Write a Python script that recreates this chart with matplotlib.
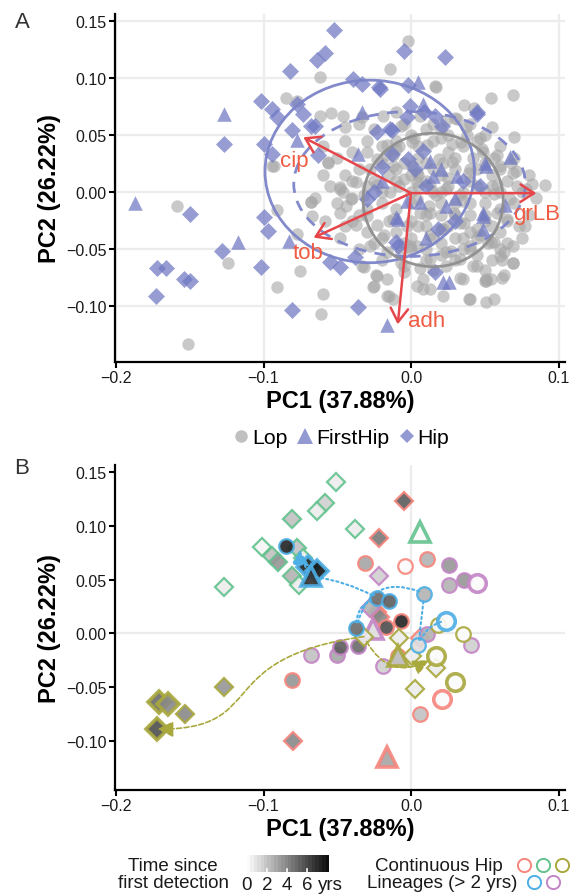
import numpy as np
import matplotlib
matplotlib.use('Agg')
import matplotlib.pyplot as plt
from matplotlib.patches import Ellipse, FancyArrowPatch
from matplotlib.path import Path
from matplotlib.lines import Line2D
from matplotlib.colors import LinearSegmentedColormap

plt.rcParams['font.family'] = ['Liberation Sans', 'DejaVu Sans']

# ---------------- axes / tick data ----------------
x_ticks = [-0.2, -0.1, 0.0, 0.1]
x_ticklabels = ['\u22120.2', '\u22120.1', '0.0', '0.1']
y_ticks = [-0.10, -0.05, 0.00, 0.05, 0.10, 0.15]
y_ticklabels = ['\u22120.10', '\u22120.05', '0.00', '0.05', '0.10', '0.15']
xlabel = 'PC1 (37.88%)'
ylabel = 'PC2 (26.22%)'

# ---------------- Panel A data ----------------
lop_x = [-0.002, -0.014, -0.062, -0.085, -0.077, 0.017, 0.069, 0.043, 0.055, 0.070,
         -0.062, -0.054, -0.046, -0.045, -0.033, -0.019, -0.056, -0.094, 0.071, 0.082, 0.091,
         -0.159, -0.124, -0.091, -0.151, -0.075, -0.060, -0.061, -0.068, -0.067, -0.091, -0.077,
         -0.016, -0.026, 0.039, 0.051, 0.056, 0.050, 0.062, 0.069, 0.073, -0.033, -0.023, 0.008,
         0.022, 0.035, 0.054,
         0.016, 0.031, 0.037, 0.024, 0.034, 0.047, 0.049, 0.056, 0.060, 0.069, 0.078, 0.058,
         0.056, 0.065, 0.077, 0.069, 0.063, 0.056, 0.047, 0.040, 0.036, 0.029, 0.024, 0.017,
         0.033, 0.039, 0.028, 0.019, 0.011, 0.002, -0.007, -0.016, -0.012, -0.005, 0.004, 0.013,
         0.006, -0.003, -0.012, -0.018, -0.007, 0.004, 0.013, 0.020, 0.024, 0.033, 0.042, 0.051,
         0.063, 0.069, 0.006, -0.005, -0.016, 0.004, 0.013, 0.040, -0.012, 0.020, 0.036, 0.054,
         0.006, -0.010,
         -0.093, -0.056, -0.068, -0.048, -0.046, -0.037, -0.028, -0.023, -0.017, -0.010, 0.001,
         -0.010, 0.001, -0.023, -0.032, -0.014, 0.004, 0.004, -0.044,
         -0.048, -0.041, -0.048, -0.037, -0.030, -0.023, -0.028, -0.016, -0.007, -0.032, -0.024,
         -0.025, -0.015, -0.001, 0.013, 0.008, 0.033, 0.051, 0.024, 0.040, 0.054, 0.060, 0.022,
         0.013, 0.033, 0.045, 0.058, 0.067,
         0.000, 0.010, 0.020, 0.030, 0.040, 0.050, 0.045, 0.025, 0.015, 0.005, -0.005, -0.015,
         -0.025, -0.035, -0.040, -0.030, -0.020, -0.010, 0.000, 0.010, 0.020, 0.030, 0.040,
         0.050, 0.060, 0.055, 0.065, 0.035, 0.045, 0.025, 0.010, 0.000, -0.010, -0.020, -0.030,
         -0.040, -0.050, -0.045, -0.055, -0.050, -0.040, -0.030, -0.020, -0.010, 0.000, 0.010,
         0.020, 0.030, 0.040, 0.050, 0.060, 0.070, 0.075, 0.070, 0.060, 0.050, 0.040, 0.030,
         0.015, -0.005, -0.025, -0.035, -0.045, -0.060, -0.060, -0.065, -0.058, -0.048, -0.035,
         -0.020, -0.005, 0.015, 0.030, 0.045, 0.055, 0.065, 0.075, 0.080, 0.085, 0.080, 0.005,
         0.025, 0.035, 0.012, -0.008, 0.042, 0.022, -0.012, 0.052, 0.027,
         0.005, 0.015, 0.025, 0.035, 0.045, 0.055, 0.000, 0.010, 0.020, 0.030, 0.040, 0.050,
         0.060, 0.005, 0.015, 0.025, 0.035, 0.045, 0.055, 0.000, 0.010, 0.020, 0.035, 0.045,
         0.060, 0.000, 0.010, 0.020, 0.030, 0.040, 0.050, 0.060, 0.005, 0.015, 0.028, 0.038,
         0.048, 0.020, -0.010, -0.020, -0.030, -0.015, -0.025, -0.005, -0.035, -0.045, -0.040,
         -0.020, -0.008, -0.030, 0.065, 0.072, 0.068, 0.058, 0.062, 0.050]
lop_y = [0.132, 0.108, 0.101, 0.082, 0.080, 0.092, 0.085, 0.074, 0.057, 0.048,
         0.067, 0.069, 0.067, 0.057, 0.066, 0.067, 0.025, 0.023, 0.018, 0.007, 0.006,
         -0.012, -0.062, -0.083, -0.133, -0.069, -0.089, -0.107, -0.009, -0.021, -0.016, -0.037,
         -0.091, -0.083, -0.094, -0.096, -0.094, -0.078, -0.075, -0.062, -0.030, -0.065, -0.074,
         -0.085, -0.091, -0.076, -0.076,
         0.093, 0.064, 0.057, 0.063, 0.044, 0.047, 0.035, 0.030, 0.023, 0.017, 0.003, 0.006,
         -0.002, -0.024, -0.030, -0.047, -0.053, -0.044, -0.038, -0.047, -0.027, -0.018, 0.003,
         -0.003, -0.003, 0.017, 0.026, 0.029, 0.041, 0.047, 0.058, 0.041, 0.023, 0.011, 0.017,
         0.006, -0.018, -0.030, -0.024, -0.038, -0.053, -0.047, -0.038, -0.032, -0.053, -0.059,
         -0.065, -0.076, -0.073, -0.062, -0.067, -0.070, -0.076, -0.082, -0.085, -0.094, -0.094,
         0.047, 0.076, 0.082, 0.067, 0.070,
         0.023, 0.026, -0.009, 0.004, 0.000, 0.009, 0.020, 0.029, 0.032, 0.038, 0.044,
         0.020, 0.023, 0.006, -0.003, 0.000, 0.009, -0.006, -0.012,
         0.003, -0.006, -0.018, -0.029, -0.021, -0.029, -0.047, -0.053, -0.062, -0.066, -0.073,
         -0.082, -0.091, -0.047, -0.059, -0.076, -0.075, -0.078, -0.065, -0.050, -0.044, -0.056,
         -0.032, -0.018, -0.027, -0.032, -0.018, -0.006,
         0.000, 0.010, 0.000, 0.020, 0.010, 0.000, 0.020, 0.035, 0.020, 0.030, 0.025, 0.015,
         0.010, 0.020, -0.005, -0.015, -0.010, -0.015, -0.025, -0.030, -0.020, -0.010, -0.020,
         -0.010, 0.000, 0.015, 0.010, 0.040, 0.045, 0.050, 0.055, 0.050, 0.045, 0.040, 0.045,
         0.035, 0.030, 0.015, 0.005, -0.010, -0.025, -0.035, -0.040, -0.035, -0.040, -0.050,
         -0.045, -0.040, -0.035, -0.025, -0.035, -0.010, 0.000, 0.030, 0.040, 0.050, 0.060,
         0.065, 0.060, 0.060, 0.055, 0.060, 0.045, 0.040, 0.015, -0.005, -0.025, -0.040, -0.050,
         -0.060, -0.065, -0.068, -0.060, -0.055, -0.060, -0.045, -0.040, -0.020, -0.005, 0.015,
         0.015, 0.012, -0.008, -0.012, 0.005, 0.030, 0.025, 0.032, -0.045, -0.052,
         0.005, 0.000, 0.005, 0.000, 0.005, 0.005, -0.010, -0.020, -0.010, -0.020, -0.010, -0.020,
         -0.015, -0.030, -0.040, -0.030, -0.040, -0.040, -0.030, -0.050, -0.060, -0.055, -0.050,
         -0.065, -0.050, 0.015, 0.025, 0.015, 0.030, 0.020, 0.025, 0.020, 0.040, 0.045, 0.042,
         0.050, 0.038, 0.055, 0.010, 0.000, 0.005, -0.025, -0.045, -0.045, -0.020, -0.030, 0.010,
         0.025, 0.040, 0.035, -0.025, 0.005, 0.025, 0.032, -0.060, -0.068]

first_x = [-0.127, -0.077, -0.036, -0.033, 0.005, 0.008, 0.067, 0.050, -0.187, -0.117, -0.083,
           -0.016, 0.022, 0.026, -0.010, 0.049, 0.064, 0.020, 0.015, 0.031, 0.049, 0.049, 0.006,
           0.024, -0.009, 0.051, 0.013, -0.020, 0.030, -0.003, 0.010]
first_y = [0.068, 0.046, 0.033, 0.070, 0.096, 0.077, 0.031, 0.025, -0.010, -0.044, -0.043,
           -0.117, -0.079, -0.079, -0.022, -0.018, -0.011, 0.020, 0.014, 0.014, -0.021, -0.032,
           -0.009, -0.012, -0.024, 0.023, 0.027, 0.010, -0.005, -0.008, -0.040]

hip_x = [-0.052, -0.005, 0.023, -0.058, -0.064, -0.082, -0.039, -0.033, -0.022, -0.021, -0.002,
         -0.102, -0.094, -0.091, -0.077, -0.073, -0.068, -0.065, -0.081, -0.127, -0.100, -0.094,
         -0.063, -0.001, 0.009, -0.003, -0.023, -0.013, 0.016, 0.021, 0.045, 0.008, -0.150,
         -0.100, -0.097, -0.128, -0.172, -0.166, -0.154, -0.150, -0.173, -0.102, -0.081, -0.036,
         -0.055, -0.048, -0.038, 0.016, -0.010, 0.047, 0.018, -0.009, 0.045, -0.013, -0.002,
         -0.030, -0.014, 0.003, 0.010, -0.020, 0.035, 0.030, -0.025]
hip_y = [0.142, 0.124, 0.118, 0.122, 0.116, 0.106, 0.099, 0.095, 0.092, 0.090, 0.094,
         0.080, 0.073, 0.066, 0.077, 0.068, 0.058, 0.058, 0.054, 0.042, 0.042, 0.033,
         0.032, 0.075, 0.070, 0.066, 0.053, 0.054, 0.067, 0.058, 0.068, 0.036, -0.019,
         -0.022, -0.034, -0.052, -0.067, -0.067, -0.076, -0.078, -0.091, -0.066, -0.103, -0.101,
         -0.061, -0.066, -0.057, -0.070, -0.044, 0.005, -0.032, -0.047, 0.070, 0.033, 0.029,
         -0.006, 0.055, 0.020, 0.005, 0.022, 0.010, -0.025, 0.000]

# group ellipses (centre x, centre y, width, height)
ell_names = ['Hip', 'FirstHip', 'Lop']
ell_cx = [-0.028, -0.001, 0.015]
ell_cy = [0.018, 0.007, -0.007]
ell_w = [0.142, 0.157, 0.095]
ell_h = [0.160, 0.127, 0.117]

# loadings
load_names = ['cip', 'grLB', 'tob', 'adh']
load_x = [-0.073, 0.085, -0.066, -0.009]
load_y = [0.048, -0.001, -0.040, -0.116]

# ---------------- Panel B data ----------------
lineage_names = ['salmon', 'green', 'olive', 'blue', 'purple']
lineage_colors = ['#F6867D', '#63C28D', '#A9A83D', '#4DAFE6', '#C485C6']

sa_x = [-0.005, -0.022, -0.031, -0.004, 0.011, -0.007, -0.023, -0.021, -0.017, 0.006, -0.081,
        -0.080, -0.016, 0.006, 0.021, -0.009]
sa_y = [0.123, 0.089, 0.065, 0.063, 0.069, 0.012, 0.020, 0.015, 0.006, -0.004, -0.043,
        -0.100, -0.115, -0.075, -0.061, -0.021]
sa_m = ['D', 'D', 'o', 'o', 'o', 'o', 'D', 'D', 'o', 'D', 'o', 'D', '^', 'o', 'o', 'o']
sa_t = [5.5, 4.5, 3.0, 0.0, 2.5, 7.5, 4.5, 4.0, 6.0, 1.5, 3.5, 4.0, 3.0, 2.0, 0.0, 2.0]
sa_big = [0, 0, 0, 0, 0, 0, 0, 0, 0, 0, 0, 0, 1, 0, 1, 0]

gr_x = [-0.051, -0.058, -0.064, -0.081, -0.038, -0.101, -0.094, -0.090, -0.077, -0.073,
        -0.081, -0.076, -0.127, 0.006]
gr_y = [0.141, 0.121, 0.114, 0.106, 0.097, 0.080, 0.072, 0.066, 0.079, 0.070, 0.053,
        0.045, 0.043, 0.094]
gr_m = ['D'] * 13 + ['^']
gr_t = [0.5, 1.5, 0.5, 2.0, 0.5, 0.2, 2.0, 3.5, 2.0, 0.5, 2.5, 0.5, 0.5, 0.0]
gr_big = [0] * 13 + [1]

ol_x = [-0.171, -0.165, -0.172, -0.153, -0.127, -0.032, -0.008, 0.001, 0.017, 0.003,
        -0.009, 0.018, 0.035, 0.017, 0.030]
ol_y = [-0.064, -0.066, -0.089, -0.075, -0.050, -0.003, -0.004, -0.021, -0.032, -0.052,
        -0.021, 0.008, -0.001, -0.021, -0.045]
ol_m = ['D'] * 10 + ['^', 'o', 'o', 'o', 'o']
ol_t = [5.0, 4.0, 6.0, 4.0, 3.5, 0.5, 0.5, 0.5, 0.5, 0.5, 2.0, 0.3, 0.0, 0.0, 0.0]
ol_big = [1, 1, 1, 0, 0, 0, 0, 0, 0, 0, 1, 0, 0, 1, 1]

bl_x = [-0.085, -0.070, -0.064, -0.068, -0.023, -0.015, -0.037, 0.009, 0.005, 0.024]
bl_y = [0.081, 0.062, 0.058, 0.053, 0.033, 0.030, 0.005, 0.037, -0.011, 0.012]
bl_m = ['o', 'D', 'D', '^', 'o', 'o', 'o', 'o', 'o', 'o']
bl_t = [7.5, 7.5, 8.0, 7.0, 5.0, 5.5, 5.0, 2.5, 1.0, 0.0]
bl_big = [0, 1, 1, 1, 0, 0, 0, 0, 0, 1]

pu_x = [0.026, 0.026, 0.036, 0.045, -0.022, -0.028, -0.026, -0.068, -0.050, -0.048, -0.036,
        -0.019, 0.041, 0.011]
pu_y = [0.064, 0.045, 0.050, 0.047, 0.053, 0.024, 0.004, -0.020, -0.020, -0.013, -0.012,
        -0.030, -0.011, -0.001]
pu_m = ['o', 'o', 'o', 'o', 'D', 'D', '^', 'o', 'o', 'o', 'o', 'o', 'o', 'o']
pu_t = [3.5, 2.5, 3.5, 0.0, 1.5, 2.5, 1.0, 2.0, 3.0, 5.5, 5.0, 1.5, 1.5, 2.5]
pu_big = [0, 0, 0, 1, 0, 0, 1, 0, 0, 0, 0, 0, 0, 0]

# lineage trajectories (indices in time order) with curvature per segment
bl_path = [9, 8, 7, 6, 4, 3, 2]
bl_rad = [0.3, 0.0, 0.6, -0.4, 0.1, -3.0]
ol_short = [5, 13]
ol_long = [5, 2]

# time legend
time_ticks = [0, 2, 4, 6]
time_ticklabels = ['0', '2', '4', '6']
time_max = 8.2

# ---------------- figure ----------------
W, H = 571, 895
fig = plt.figure(figsize=(W / 100, H / 100), dpi=100)
axA = fig.add_axes([115 / W, 1 - 363 / H, 450 / W, 348 / H])
axB = fig.add_axes([115 / W, 1 - 791 / H, 450 / W, 325 / H])

TXT = '#1a1a1a'


def style_axes(ax, ylo, yhi):
    ax.set_xlim(-0.2007, 0.1044)
    ax.set_ylim(ylo, yhi)
    ax.set_xticks(x_ticks)
    ax.set_xticklabels(x_ticklabels)
    ax.set_yticks(y_ticks)
    ax.set_yticklabels(y_ticklabels)
    for s in ['top', 'right']:
        ax.spines[s].set_visible(False)
    for s in ['left', 'bottom']:
        ax.spines[s].set_linewidth(1.6)
        ax.spines[s].set_color('black')
    ax.tick_params(direction='out', length=4, width=1.5, labelsize=11.5,
                   labelcolor=TXT, pad=2)
    ax.set_xlabel(xlabel, fontsize=17, fontweight='bold', labelpad=3)
    ax.set_ylabel(ylabel, fontsize=17, fontweight='bold', labelpad=4)
    ax.set_axisbelow(True)


style_axes(axA, -0.149, 0.156)
style_axes(axB, -0.1455, 0.1565)
axA.grid(True, color='#ECECEC', lw=1.6)
axB.axvline(0, color='#ECECEC', lw=1.6, zorder=0)
axB.axhline(0, color='#ECECEC', lw=1.6, zorder=0)

# ---- Panel A ----
GRAY = '#A6A6A6'
BLUE = '#6F78C3'
axA.scatter(lop_x, lop_y, s=80, marker='o', color=GRAY, alpha=0.6, lw=0, zorder=2)
axA.scatter(first_x, first_y, s=110, marker='^', color=BLUE, alpha=0.72, lw=0, zorder=3)
axA.scatter(hip_x, hip_y, s=75, marker='D', color=BLUE, alpha=0.72, lw=0, zorder=3)

ell_style = {'Hip': dict(color='#7C84C9', ls='-'),
             'FirstHip': dict(color='#7C84C9', ls=(0, (4, 3))),
             'Lop': dict(color='#8F8F8F', ls='-')}
for n, cx, cy, w, h in zip(ell_names, ell_cx, ell_cy, ell_w, ell_h):
    st = ell_style[n]
    axA.add_patch(Ellipse((cx, cy), w, h, fill=False, edgecolor=st['color'],
                          linestyle=st['ls'], lw=2.0, alpha=0.95, zorder=4))

ARROW = '#E6454A'
LABEL = '#EF5C43'
lab_off = {'cip': (-0.006, -0.020, 'center'), 'grLB': (-0.016, -0.018, 'left'),
           'tob': (-0.004, -0.013, 'center'), 'adh': (0.007, 0.003, 'left')}
for n, lx, ly in zip(load_names, load_x, load_y):
    axA.add_patch(FancyArrowPatch((0, -0.001), (lx, ly),
                                  arrowstyle='->,head_length=0.7,head_width=0.45',
                                  mutation_scale=14, color=ARROW, lw=1.8,
                                  shrinkA=0, shrinkB=0, zorder=5))
    dx, dy, ha = lab_off[n]
    axA.text(lx + dx, ly + dy, n, color=LABEL, fontsize=16, ha=ha, va='center', zorder=6)

# legend A
hA = [Line2D([], [], marker='o', ls='', color=GRAY, alpha=0.7, ms=9, mew=0),
      Line2D([], [], marker='^', ls='', color=BLUE, alpha=0.75, ms=11, mew=0),
      Line2D([], [], marker='D', ls='', color=BLUE, alpha=0.75, ms=7.5, mew=0)]
fig.legend(hA, ['Lop', 'FirstHip', 'Hip'], loc='center', ncol=3,
           bbox_to_anchor=(341 / W, 1 - 439 / H), frameon=False, fontsize=15.3,
           handlelength=0.8, handletextpad=0.1, columnspacing=0.45, borderpad=0)

fig.text(22 / W, 1 - 22 / H, 'A', fontsize=16, color='#333333', ha='center', va='center')
fig.text(22 / W, 1 - 469 / H, 'B', fontsize=16, color='#333333', ha='center', va='center')

# ---- Panel B ----
tcmap = LinearSegmentedColormap.from_list('t', ['#FBFBFB', '#0E0E0E'])


def fillcol(t):
    return tcmap(min(t / time_max, 1.0))


groups = [(sa_x, sa_y, sa_m, sa_t, sa_big, lineage_colors[0]),
          (gr_x, gr_y, gr_m, gr_t, gr_big, lineage_colors[1]),
          (pu_x, pu_y, pu_m, pu_t, pu_big, lineage_colors[4]),
          (ol_x, ol_y, ol_m, ol_t, ol_big, lineage_colors[2]),
          (bl_x, bl_y, bl_m, bl_t, bl_big, lineage_colors[3])]
msize = {'o': 10.5, 'D': 9.5, '^': 11.5}
for xs, ys, ms, ts, bg, col in groups:
    for x, y, m, t, b in zip(xs, ys, ms, ts, bg):
        size = msize[m] * (1.2 if b else 1.0)
        axB.plot([x], [y], marker=m, ms=size, mfc=fillcol(t), mec=col,
                 mew=2.6 if b else 1.6, ls='', alpha=0.9, zorder=3)

BCOL = lineage_colors[3]
OCOL = lineage_colors[2]
for k in range(len(bl_path) - 1):
    i, j = bl_path[k], bl_path[k + 1]
    last = k == len(bl_path) - 2
    axB.add_patch(FancyArrowPatch((bl_x[i], bl_y[i]), (bl_x[j], bl_y[j]),
                                  connectionstyle=f'arc3,rad={bl_rad[k]}',
                                  arrowstyle='-|>,head_length=0.8,head_width=0.4' if last else '-',
                                  mutation_scale=12, color=BCOL, lw=1.5, ls=(0, (1, 1.5)),
                                  shrinkA=4, shrinkB=6 if last else 4, zorder=5))

i, j = ol_short
axB.add_patch(FancyArrowPatch((ol_x[i], ol_y[i]), (ol_x[j], ol_y[j]),
                              connectionstyle='arc3,rad=0.55',
                              arrowstyle='-|>,head_length=0.8,head_width=0.4',
                              mutation_scale=12, color=OCOL, lw=1.2, ls=(0, (3, 1.5)),
                              shrinkA=4, shrinkB=6, zorder=5))
i, j = ol_long
p0 = np.array([ol_x[i], ol_y[i]])
p3 = np.array([ol_x[j], ol_y[j]])
d = p0[0] - p3[0]
p1 = p0 + np.array([-0.75 * d, -0.02])
p2 = p3 + np.array([0.55 * d, 0.0])
axB.add_patch(FancyArrowPatch(path=Path([p0, p1, p2, p3],
                                        [Path.MOVETO, Path.CURVE4, Path.CURVE4, Path.CURVE4]),
                              arrowstyle='-|>,head_length=0.8,head_width=0.4',
                              mutation_scale=12, color=OCOL, lw=1.2, ls=(0, (3, 1.5)),
                              zorder=5))

# ---- bottom legend ----
fig.text(173 / W, 1 - 867 / H, 'Time since', fontsize=13.5, ha='center', va='center', color=TXT)
fig.text(173 / W, 1 - 884 / H, 'first detection', fontsize=13.5, ha='center', va='center', color=TXT)
cax = fig.add_axes([247 / W, 1 - 873 / H, 82 / W, 17 / H])
grad = np.linspace(0, time_max, 24)[None, :]
cax.imshow(grad, cmap=tcmap, vmin=0, vmax=time_max, aspect='auto',
           extent=[0, time_max, 0, 1], interpolation='nearest')
cax.set_xlim(0, time_max)
cax.set_ylim(0, 1)
for t in time_ticks[1:]:
    cax.plot([t, t], [0, 0.2], color='white', lw=1.2)
cax.set_axis_off()
for t, lab in zip(time_ticks, time_ticklabels):
    cax.text(t, -0.75, lab, transform=cax.transData, fontsize=13.5, ha='center',
             va='center', color=TXT, clip_on=False)
cax.text(time_max + 0.1, -0.75, 'yrs', fontsize=13.5, ha='center', va='center',
         color=TXT, clip_on=False)

fig.text(503 / W, 1 - 867 / H, 'Continuous Hip', fontsize=13.5, ha='right', va='center', color=TXT)
fig.text(517 / W, 1 - 884 / H, 'Lineages (> 2 yrs)', fontsize=13.5, ha='right', va='center', color=TXT)
leg_pos = [(524, 866), (543, 866), (562, 866), (534, 883), (553, 883)]
for (px, py), col in zip(leg_pos, lineage_colors):
    fig.lines.append(Line2D([px / W], [1 - py / H], transform=fig.transFigure, marker='o',
                            ms=9.5, mfc='white', mec=col, mew=1.4, ls=''))

fig.savefig('out.png', dpi=100)
